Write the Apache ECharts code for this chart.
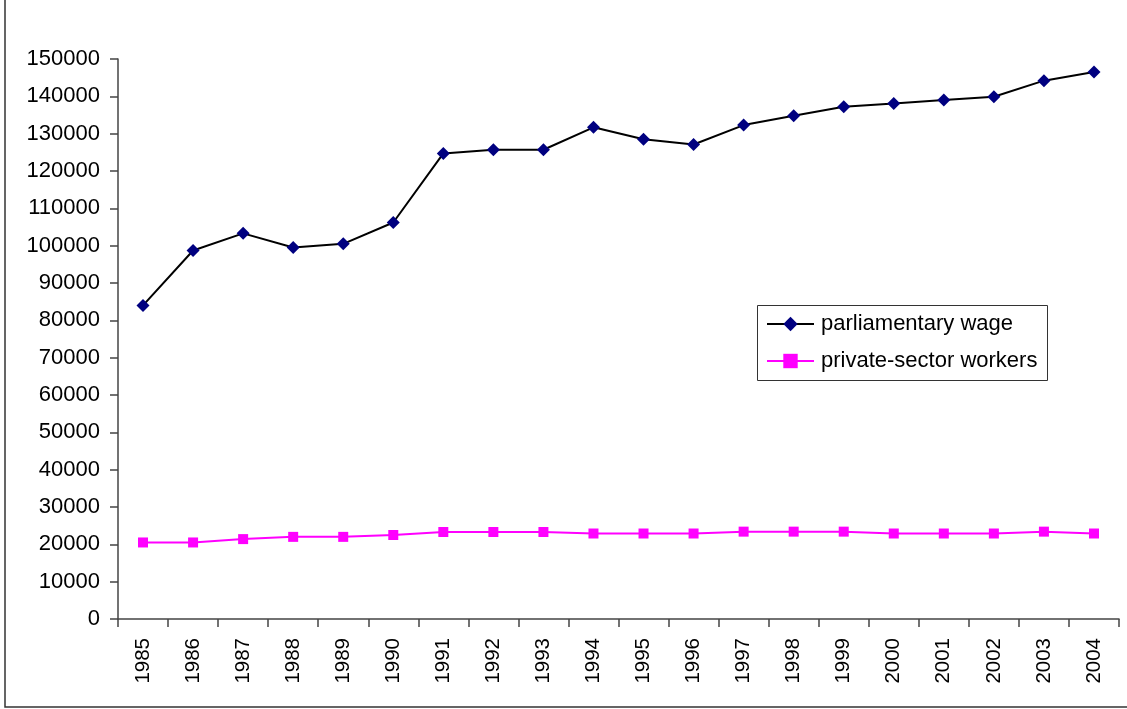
<!DOCTYPE html>
<html>
<head>
<meta charset="utf-8">
<script src="https://cdn.jsdelivr.net/npm/echarts@6/dist/echarts.min.js"></script>
<style>
html,body{margin:0;padding:0;background:#fff;}
#chart{width:1127px;height:709px;}
</style>
</head>
<body>
<div id="chart"></div>
<script>
var years = ['1985','1986','1987','1988','1989','1990','1991','1992','1993','1994','1995','1996','1997','1998','1999','2000','2001','2002','2003','2004'];
var parliamentaryWage = [84000,98700,103300,99500,100500,106200,124700,125700,125700,131700,128500,127100,132300,134800,137200,138100,139000,139900,144200,146500];
var privateSectorWorkers = [20500,20500,21400,22000,22000,22500,23300,23300,23300,22900,22900,22900,23400,23400,23400,22900,22900,22900,23400,22900];
var yTicks = {min:0, max:150000, interval:10000};

var chart = echarts.init(document.getElementById('chart'), null, {renderer:'canvas'});
var font = '"Liberation Sans", Arial, sans-serif';
chart.setOption({
  animation:false,
  backgroundColor:'#fff',
  graphic:[
    {type:'rect', shape:{x:5, y:-10, width:1140, height:717}, style:{fill:'none', stroke:'#333', lineWidth:1.5}, silent:true},
    {type:'rect', shape:{x:757.5, y:305.5, width:290, height:75}, style:{fill:'#fff', stroke:'#333', lineWidth:1}, silent:true, z:5}
  ],
  grid:{left:118, top:59, right:8, bottom:90, containLabel:false},
  xAxis:{
    type:'category', data:years, boundaryGap:true,
    axisLine:{lineStyle:{color:'#444', width:1.5}},
    axisTick:{show:true, length:8, inside:false, lineStyle:{color:'#444', width:1.5}},
    axisLabel:{rotate:90, margin:19, color:'#000', fontSize:20.5, fontFamily:font, interval:0},
    splitLine:{show:false}
  },
  yAxis:{
    type:'value', min:yTicks.min, max:yTicks.max, interval:yTicks.interval,
    axisLine:{show:true, lineStyle:{color:'#444', width:1.5}},
    axisTick:{show:true, length:8, lineStyle:{color:'#444', width:1.5}},
    axisLabel:{margin:18, color:'#000', fontSize:22, fontFamily:font, formatter:function(v){return String(v);}},
    splitLine:{show:false}
  },
  legend:{
    orient:'vertical', left:766, top:313, padding:0, itemGap:15,
    itemWidth:47, itemHeight:18, z:10,
    textStyle:{fontSize:22, fontFamily:font, color:'#000', padding:[0,0,0,2]},
    data:['parliamentary wage','private-sector workers']
  },
  series:[
    {name:'parliamentary wage', type:'line', data:parliamentaryWage,
     symbol:'diamond', symbolSize:13, showAllSymbol:true,
     lineStyle:{color:'#000', width:2}, itemStyle:{color:'#000080'}},
    {name:'private-sector workers', type:'line', data:privateSectorWorkers,
     symbol:'rect', symbolSize:10, showAllSymbol:true,
     lineStyle:{color:'#ff00ff', width:2}, itemStyle:{color:'#ff00ff'}}
  ]
});
</script>
</body>
</html>
